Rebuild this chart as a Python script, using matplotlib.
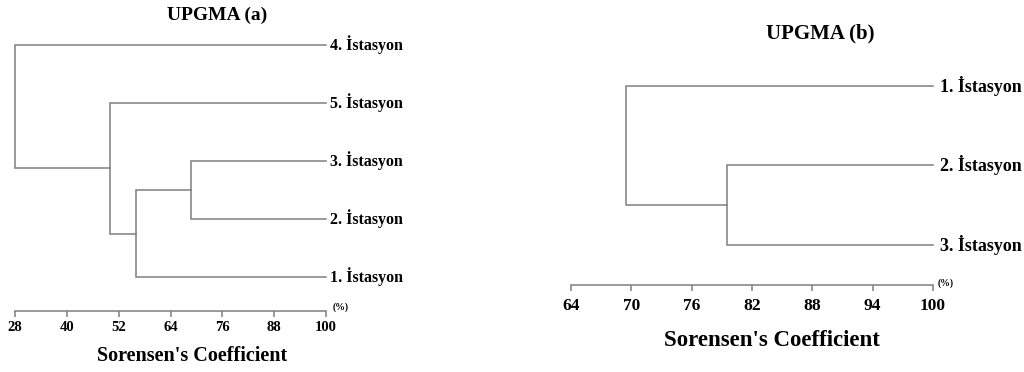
import matplotlib.pyplot as plt

plt.rcParams['font.family'] = ['Liberation Serif', 'DejaVu Serif']
plt.rcParams['font.weight'] = 'bold'

# UPGMA (a): leaves top to bottom, merges as (child, child, similarity %)
leaves_a = ["4. İstasyon", "5. İstasyon", "3. İstasyon", "2. İstasyon", "1. İstasyon"]
merges_a = [(2, 3, 68.7), (5, 4, 56.0), (1, 6, 50.0), (0, 7, 28.0)]
ticks_a = [28, 40, 52, 64, 76, 88, 100]

# UPGMA (b)
leaves_b = ["1. İstasyon", "2. İstasyon", "3. İstasyon"]
merges_b = [(1, 2, 79.5), (0, 3, 69.5)]
ticks_b = [64, 70, 76, 82, 88, 94, 100]

LINE = '#7f7f7f'
W, H = 1024, 372


def px_axes(fig, x0, x1, top, bottom):
    return fig.add_axes([x0 / W, 1 - bottom / H, (x1 - x0) / W, (bottom - top) / H])


def draw_tree(ax, leaves, merges, xmax):
    pos = {i: (float(i), xmax) for i in range(len(leaves))}
    nid = len(leaves)
    for a, b, s in merges:
        ya, xa = pos[a]
        yb, xb = pos[b]
        ax.plot([xa, s, s, xb], [ya, ya, yb, yb], color=LINE, lw=1.1,
                solid_joinstyle='miter', clip_on=False)
        pos[nid] = ((ya + yb) / 2, s)
        nid += 1


def setup(ax, ticks, lab_size, pad):
    ax.set_xlim(ticks[0], ticks[-1])
    ax.set_xticks(ticks)
    ax.set_yticks([])
    for s in ['top', 'right', 'left']:
        ax.spines[s].set_visible(False)
    ax.spines['bottom'].set_color(LINE)
    ax.spines['bottom'].set_linewidth(1.1)
    ax.tick_params(axis='x', direction='out', length=4, width=1.1, color=LINE,
                   labelsize=lab_size, pad=pad)
    for t in ax.get_xticklabels():
        t.set_fontweight('bold')
    ax.patch.set_alpha(0)


fig = plt.figure(figsize=(W / 100, H / 100), dpi=100)

# left panel
ax1 = px_axes(fig, 15, 326, 30, 311)
ax1.set_ylim(-0.259 + 281 / 58, -0.259)
draw_tree(ax1, leaves_a, merges_a, ticks_a[-1])
for i, name in enumerate(leaves_a):
    ax1.text(101.0, i, name, fontsize=11.5, fontweight='bold', va='center', ha='left')
setup(ax1, ticks_a, 10.5, 3)
fig.text(333 / W, 1 - 307 / H, '(%)', fontsize=7, fontweight='bold', ha='left', va='center')
fig.text(217 / W, 1 - 15 / H, 'UPGMA (a)', fontsize=14, fontweight='bold', ha='center', va='center')
fig.text(192 / W, 1 - 356 / H, "Sorensen's Coefficient", fontsize=14.5, fontweight='bold',
         ha='center', va='center')

# right panel
ax2 = px_axes(fig, 571, 933, 70, 285)
ax2.set_ylim(-0.201 + 215 / 79.5, -0.201)
draw_tree(ax2, leaves_b, merges_b, ticks_b[-1])
for i, name in enumerate(leaves_b):
    ax2.text(100.7, i, name, fontsize=13, fontweight='bold', va='center', ha='left')
setup(ax2, ticks_b, 12.5, 5)
fig.text(938 / W, 1 - 283 / H, '(%)', fontsize=7, fontweight='bold', ha='left', va='center')
fig.text(820 / W, 1 - 33 / H, 'UPGMA (b)', fontsize=15, fontweight='bold', ha='center', va='center')
fig.text(772 / W, 1 - 340 / H, "Sorensen's Coefficient", fontsize=16.5, fontweight='bold',
         ha='center', va='center')

fig.savefig('out.png', dpi=100)
